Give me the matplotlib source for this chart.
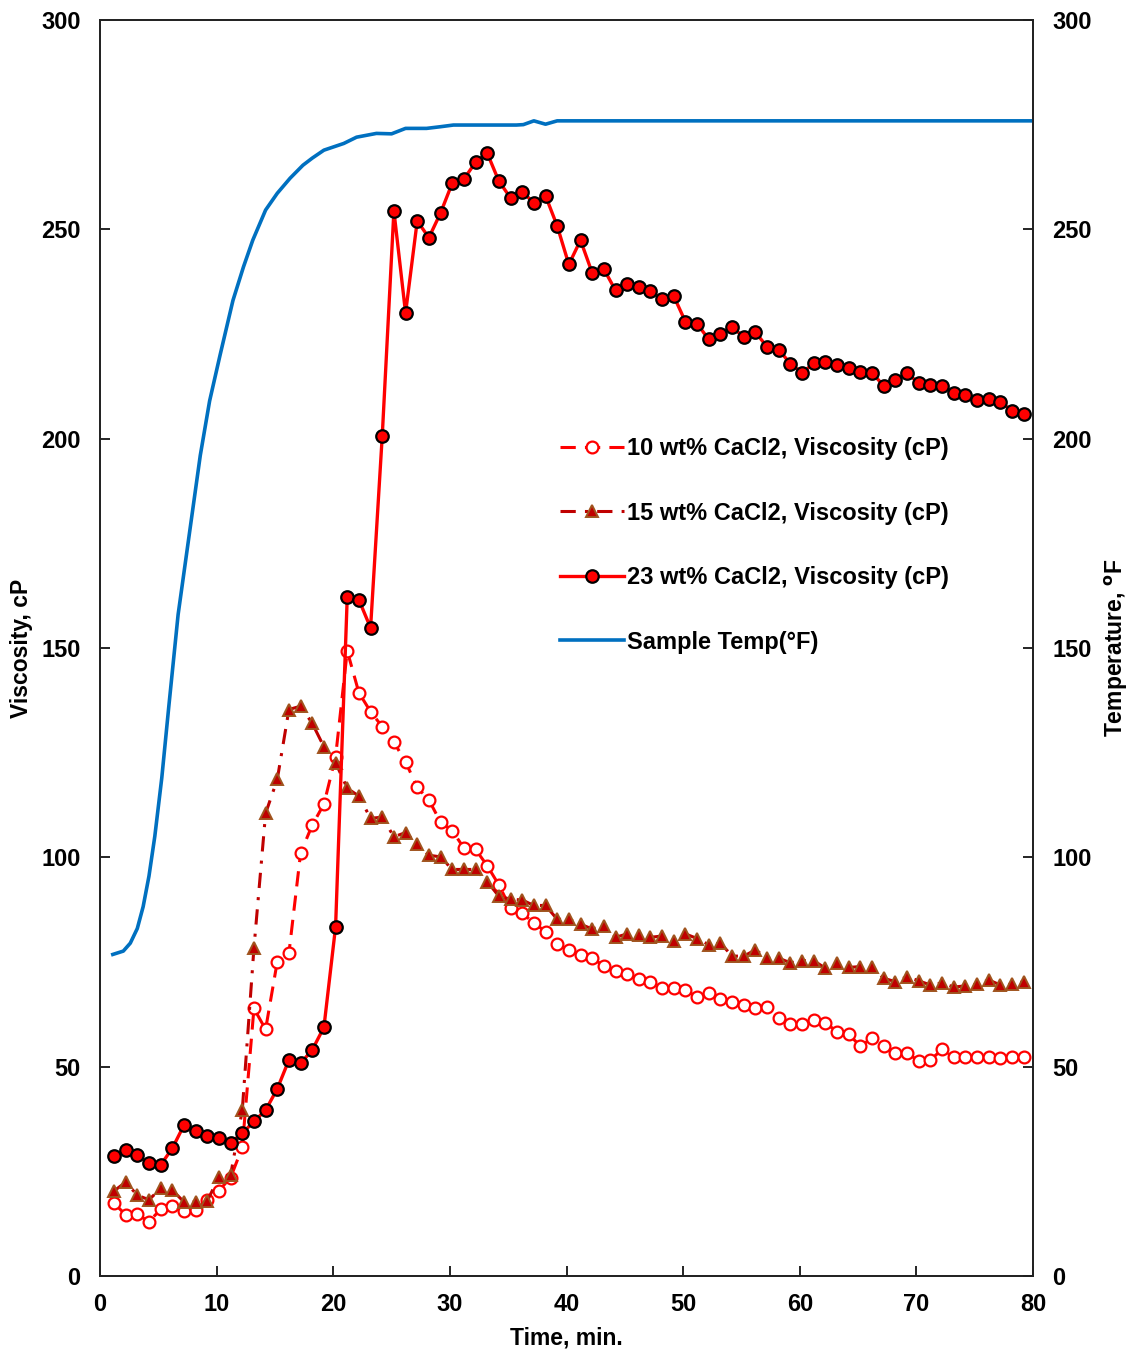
import matplotlib.pyplot as plt
import numpy as np

plt.rcParams['font.family'] = ['Liberation Sans', 'DejaVu Sans']
plt.rcParams['font.weight'] = 'bold'

# Viscosity readings, one per minute
time_min = np.arange(79) + 1.2

visc_10 = [17.4, 14.6, 14.7, 13.0, 15.9, 16.6, 15.5, 15.8, 18.2, 20.4,
           23.5, 30.7, 63.9, 58.9, 75.1, 77.1, 101.0, 107.7, 112.7, 124.0,
           149.3, 139.3, 134.8, 131.2, 127.5, 122.8, 116.7, 113.7, 108.4, 106.4,
           102.2, 101.9, 98.0, 93.4, 87.8, 86.6, 84.4, 82.2, 79.2, 77.9,
           76.7, 76.0, 74.0, 72.9, 72.1, 70.9, 70.3, 68.9, 68.9, 68.3,
           66.6, 67.5, 66.1, 65.5, 64.7, 63.9, 64.2, 61.7, 60.2, 60.2,
           61.1, 60.5, 58.3, 57.7, 54.9, 56.8, 55.0, 53.3, 53.3, 51.3,
           51.6, 54.1, 52.2, 52.2, 52.2, 52.2, 52.0, 52.2, 52.2]

visc_15 = [20.3, 22.4, 19.3, 18.2, 20.9, 20.5, 17.7, 17.7, 17.9, 23.7,
           24.1, 39.6, 78.3, 110.5, 118.6, 135.3, 136.1, 132.0, 126.4, 122.6,
           116.5, 114.6, 109.3, 109.6, 104.9, 105.9, 103.2, 100.5, 100.1, 97.1,
           97.1, 97.1, 94.2, 90.7, 90.0, 89.8, 88.5, 88.5, 85.2, 85.2,
           84.0, 82.9, 83.6, 80.9, 81.7, 81.4, 80.9, 81.2, 80.1, 81.7,
           80.6, 79.1, 79.5, 76.4, 76.4, 77.9, 75.9, 75.9, 74.8, 75.3,
           75.3, 73.5, 74.8, 73.7, 73.9, 73.7, 71.1, 70.3, 71.5, 70.5,
           69.5, 70.0, 69.0, 69.3, 69.7, 70.7, 69.5, 69.7, 70.3]

visc_23 = [28.7, 30.1, 28.8, 26.9, 26.5, 30.5, 36.0, 34.7, 33.5, 32.9,
           31.8, 34.1, 36.9, 39.6, 44.7, 51.6, 50.8, 54.0, 59.4, 83.4,
           162.2, 161.5, 154.8, 200.6, 254.4, 230.0, 252.0, 248.0, 253.9, 261.0,
           262.0, 266.0, 268.2, 261.5, 257.5, 259.0, 256.3, 258.0, 250.8, 241.6,
           247.4, 239.6, 240.5, 235.4, 236.9, 236.1, 235.2, 233.3, 234.0, 227.9,
           227.4, 223.7, 225.1, 226.6, 224.3, 225.4, 221.9, 221.2, 217.9, 215.7,
           218.0, 218.2, 217.6, 216.8, 216.0, 215.7, 212.6, 214.0, 215.7, 213.2,
           212.8, 212.6, 211.0, 210.4, 209.2, 209.4, 208.8, 206.6, 206.0]

# Sample temperature trace
temp_time = [1.1, 2.0, 2.6, 3.2, 3.7, 4.2, 4.7, 5.3, 5.9, 6.7, 7.6, 8.6,
             9.4, 10.3, 11.4, 12.3, 13.1, 14.2, 15.2, 16.3, 17.4, 18.2,
             19.2, 20.9, 22.0, 23.7, 25.0, 26.2, 28.0, 29.2, 30.3, 35.7,
             36.3, 37.2, 38.2, 39.2, 80.0]
temp_f = [76.8, 77.6, 79.5, 83.0, 88.2, 95.5, 105.0, 119.0, 136.0, 158.0, 176.0, 196.0,
          209.0, 220.0, 233.0, 241.0, 247.4, 254.6, 258.6, 262.2, 265.3, 267.0,
          268.9, 270.5, 272.0, 272.9, 272.8, 274.1, 274.1, 274.5, 274.9, 274.9,
          275.0, 275.9, 275.1, 275.9, 275.9]

fig = plt.figure(figsize=(11.31, 13.57), dpi=100)
ax = fig.add_axes([0.0884, 0.0597, 0.8250, 0.9256])
ax2 = ax.twinx()

l10, = ax.plot(time_min, visc_10, color='#FF0000', lw=2.2, dashes=(5, 3),
               marker='o', ms=8.5, mfc='white', mec='#FF0000', mew=1.6,
               label='10 wt% CaCl2, Viscosity (cP)')
l15, = ax.plot(time_min, visc_15, color='#C00000', lw=2.2, dashes=(5, 3, 1, 3),
               marker='^', ms=9, mfc='#C00000', mec='#A0541E', mew=1.4,
               label='15 wt% CaCl2, Viscosity (cP)')
l23, = ax.plot(time_min, visc_23, color='#FF0000', lw=2.4,
               marker='o', ms=9, mfc='#FF0000', mec='black', mew=1.6,
               label='23 wt% CaCl2, Viscosity (cP)')
lt, = ax2.plot(temp_time, temp_f, color='#0070C0', lw=2.6,
               label='Sample Temp(°F)')

for a in (ax, ax2):
    a.set_xlim(0, 80)
    a.set_ylim(0, 300)
    a.set_yticks(np.arange(0, 301, 50))
    a.tick_params(direction='in', length=7, width=1.2, labelsize=17, pad=14)
    for s in a.spines.values():
        s.set_linewidth(1.3)
        s.set_color('#222222')
ax.set_xticks(np.arange(0, 81, 10))
ax.tick_params(axis='x', pad=12)

ax.set_xlabel('Time, min.', fontsize=16.5, fontweight='bold', labelpad=8)
ax.set_ylabel('Viscosity, cP', fontsize=16.5, fontweight='bold', labelpad=6)
ax2.set_ylabel('Temperature, $^{\\mathrm{o}}$F', fontsize=16.5, fontweight='bold', labelpad=8)

ax2.legend(handles=[l10, l15, l23, lt], loc='upper left',
           bbox_to_anchor=(0.493, 0.668), frameon=False, fontsize=17,
           handlelength=2.7, handletextpad=0.15, labelspacing=1.76,
           borderpad=0, borderaxespad=0)

fig.savefig('out.png', dpi=100)
